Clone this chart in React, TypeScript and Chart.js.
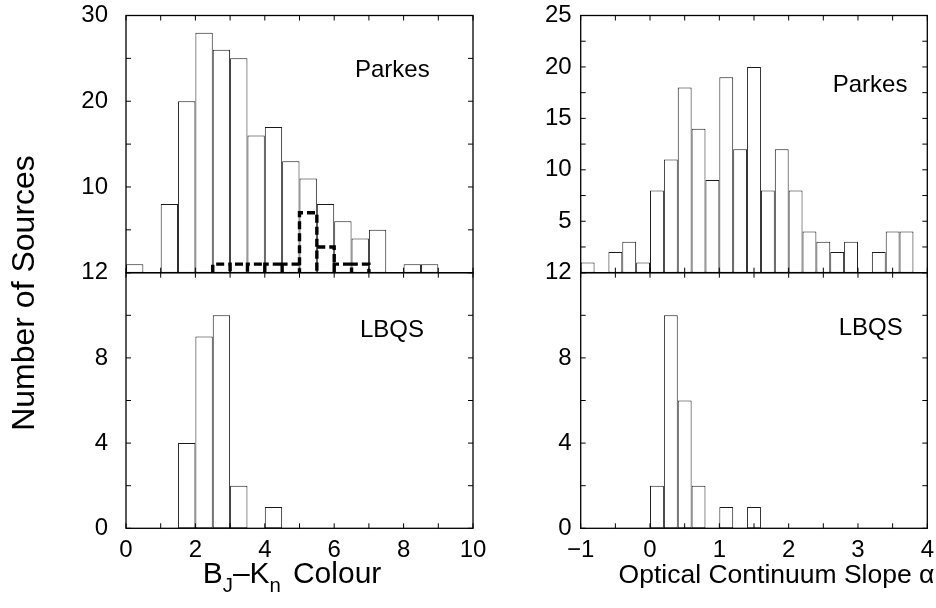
import React, { useEffect, useRef } from 'react';
import { Chart, registerables } from 'chart.js';

Chart.register(...registerables);

const FONT = '"Liberation Sans", Arial, Helvetica, sans-serif';

// ---------------- data ----------------
// B_J - K_n colour histograms (bin width 0.5)
const colourBinStarts = [0, 0.5, 1, 1.5, 2, 2.5, 3, 3.5, 4, 4.5, 5, 5.5, 6, 6.5, 7, 7.5, 8, 8.5, 9, 9.5];
const parkesColourCounts = [1, 0, 8, 20, 28, 26, 25, 16, 17, 13, 11, 8, 6, 4, 5, 0, 1, 1, 0, 0];
const parkesColourDashedCounts = [0, 0, 0, 0, 0, 1, 1, 1, 1, 1, 7, 3, 1, 1, 0, 0, 0, 0, 0, 0];
const lbqsColourCounts = [0, 0, 0, 4, 9, 10, 2, 0, 1, 0, 0, 0, 0, 0, 0, 0, 0, 0, 0, 0];
const colourBinWidth = 0.5;

// Optical continuum slope alpha histograms (bin width 0.2)
const alphaBinStarts = [-1, -0.8, -0.6, -0.4, -0.2, 0, 0.2, 0.4, 0.6, 0.8, 1, 1.2, 1.4, 1.6, 1.8, 2, 2.2, 2.4, 2.6, 2.8, 3, 3.2, 3.4, 3.6, 3.8];
const parkesAlphaCounts = [1, 0, 2, 3, 1, 8, 11, 18, 14, 9, 19, 12, 20, 8, 12, 8, 4, 3, 2, 3, 0, 2, 4, 4, 0];
const lbqsAlphaCounts = [0, 0, 0, 0, 0, 2, 10, 6, 2, 0, 1, 0, 1, 0, 0, 0, 0, 0, 0, 0, 0, 0, 0, 0, 0];
const alphaBinWidth = 0.2;

// tick labels
const colourTickLabels = [0, 2, 4, 6, 8, 10];
const alphaTickLabels = [-1, 0, 1, 2, 3, 4];
const parkesColourYLabels = [10, 20, 30];
const parkesAlphaYLabels = [5, 10, 15, 20, 25];
const lbqsYLabels = [0, 4, 8, 12];

// tick marks
const colourTickMarks = [0, 1, 2, 3, 4, 5, 6, 7, 8, 9, 10];
const alphaTickMarks = [-1, -0.5, 0, 0.5, 1, 1.5, 2, 2.5, 3, 3.5, 4];
const parkesColourYMarks = [0, 5, 10, 15, 20, 25, 30];
const parkesAlphaYMarks = [0, 2.5, 5, 7.5, 10, 12.5, 15, 17.5, 20, 22.5, 25];
const lbqsYMarks = [0, 2, 4, 6, 8, 10, 12];

// ---------------- layout ----------------
const W = 936;
const H = 608;
const Y_AXIS_W = 60;
const X_AXIS_H = 40;
const TICK_FONT = 24;
const NAME_FONT = 24;

const fmt = (v: number) => (v < 0 ? '\u2212' + Math.abs(v) : String(v));

function outline(starts: number[], counts: number[], width: number) {
  const pts: { x: number; y: number }[] = [];
  counts.forEach((c, i) => {
    if (c <= 0) return;
    const x0 = starts[i];
    const x1 = starts[i] + width;
    pts.push({ x: x0, y: 0 }, { x: x0, y: c }, { x: x1, y: c }, { x: x1, y: 0 });
  });
  return pts;
}

type Part = [string, boolean];
function drawParts(
  ctx: CanvasRenderingContext2D,
  parts: Part[],
  size: number,
  cx: number,
  baseline: number,
  gapBefore: number[]
) {
  const sub = size * 0.68;
  let total = 0;
  parts.forEach(([t, s], i) => {
    ctx.font = `${s ? sub : size}px ${FONT}`;
    total += ctx.measureText(t).width + (gapBefore[i] || 0);
  });
  let x = cx - total / 2;
  ctx.textAlign = 'left';
  ctx.textBaseline = 'alphabetic';
  parts.forEach(([t, s], i) => {
    x += gapBefore[i] || 0;
    ctx.font = `${s ? sub : size}px ${FONT}`;
    ctx.fillText(t, x, baseline + (s ? 9 : 0));
    x += ctx.measureText(t).width;
  });
}

type Panel = {
  starts: number[];
  counts: number[];
  binWidth: number;
  dashed?: number[];
  xRange: [number, number];
  yRange: [number, number];
  xLabels: number[] | null;
  yLabels: number[];
  xMarks: number[];
  yMarks: number[];
  area: { left: number; right: number; top: number; bottom: number };
  yLabelGap: number;
  xLabelGap: number;
  name: string;
  nameAt: [number, number];
  extra?: (ctx: CanvasRenderingContext2D, a: any) => void;
};

function makeConfig(p: Panel): any {
  const datasets: any[] = [
    {
      type: 'bar',
      data: p.counts.map((c, i) => ({ x: p.starts[i] + p.binWidth / 2, y: c })),
      backgroundColor: '#ffffff',
      borderColor: '#1a1a1a',
      borderWidth: 1,
      borderSkipped: false,
      barPercentage: 1,
      categoryPercentage: 1,
      inflateAmount: 0,
      order: 2,
    },
  ];
  if (p.dashed) {
    datasets.push({
      type: 'line',
      data: outline(p.starts, p.dashed, p.binWidth),
      borderColor: '#000000',
      borderWidth: 3.4,
      borderDash: [8, 4],
      borderCapStyle: 'butt',
      pointRadius: 0,
      fill: false,
      tension: 0,
      order: 1,
    });
  }

  const decor = {
    id: 'decor',
    afterDatasetsDraw(chart: any) {
      const { ctx, chartArea: a } = chart;
      const xs = chart.scales.x;
      const ys = chart.scales.y;
      const L = 5;
      ctx.save();
      ctx.strokeStyle = '#000';
      ctx.lineWidth = 1;
      ctx.beginPath();
      p.xMarks.forEach((v) => {
        const px = xs.getPixelForValue(v);
        ctx.moveTo(px, a.bottom);
        ctx.lineTo(px, a.bottom - L);
        ctx.moveTo(px, a.top);
        ctx.lineTo(px, a.top + L);
      });
      p.yMarks.forEach((v) => {
        const py = ys.getPixelForValue(v);
        ctx.moveTo(a.left, py);
        ctx.lineTo(a.left + L, py);
        ctx.moveTo(a.right, py);
        ctx.lineTo(a.right - L, py);
      });
      ctx.stroke();
      ctx.lineWidth = 1.3;
      ctx.strokeRect(a.left, a.top, a.right - a.left, a.bottom - a.top);
      ctx.fillStyle = '#000';
      ctx.font = `${NAME_FONT}px ${FONT}`;
      ctx.textAlign = 'left';
      ctx.textBaseline = 'alphabetic';
      ctx.fillText(p.name, a.left + p.nameAt[0], a.top + p.nameAt[1]);
      if (p.extra) p.extra(ctx, a);
      ctx.restore();
    },
  };

  return {
    type: 'bar',
    data: { datasets },
    options: {
      responsive: false,
      animation: false,
      devicePixelRatio: 1,
      events: [],
      layout: {
        padding: {
          left: p.area.left - Y_AXIS_W,
          right: W - p.area.right,
          top: p.area.top,
          bottom: H - p.area.bottom - (p.xLabels ? X_AXIS_H : 0),
        },
      },
      plugins: { legend: { display: false }, tooltip: { enabled: false }, title: { display: false } },
      scales: {
        x: {
          type: 'linear',
          min: p.xRange[0],
          max: p.xRange[1],
          offset: false,
          display: !!p.xLabels,
          grid: { display: false, drawTicks: false },
          border: { display: false },
          ticks: {
            padding: p.xLabelGap,
            autoSkip: false,
            maxRotation: 0,
            font: { size: TICK_FONT, family: FONT },
            color: '#000',
            callback: (v: any) => fmt(Number(v)),
          },
          afterBuildTicks: (s: any) => {
            s.ticks = (p.xLabels ?? p.xMarks).map((v) => ({ value: v }));
          },
          afterFit: (s: any) => {
            s.height = p.xLabels ? X_AXIS_H : 0;
            s.paddingLeft = 0;
            s.paddingRight = 0;
          },
        },
        y: {
          type: 'linear',
          min: p.yRange[0],
          max: p.yRange[1],
          grid: { display: false, drawTicks: false },
          border: { display: false },
          ticks: {
            padding: p.yLabelGap,
            autoSkip: false,
            font: { size: TICK_FONT, family: FONT },
            color: '#000',
            callback: (v: any) => fmt(Number(v)),
          },
          afterBuildTicks: (s: any) => {
            s.ticks = p.yLabels.map((v) => ({ value: v }));
          },
          afterFit: (s: any) => {
            s.width = Y_AXIS_W;
            s.paddingTop = 0;
            s.paddingBottom = 0;
          },
        },
      },
    },
    plugins: [decor],
  };
}

const LEFT = { left: 126, right: 473 };
const RIGHT = { left: 580.7, right: 927.3 };
const TOP = { top: 15.5, bottom: 272.7 };
const BOTTOM = { top: 272.7, bottom: 528.3 };

const panels: Panel[] = [
  {
    starts: colourBinStarts,
    counts: parkesColourCounts,
    dashed: parkesColourDashedCounts,
    binWidth: colourBinWidth,
    xRange: [0, 10],
    yRange: [0, 30],
    xLabels: null,
    yLabels: parkesColourYLabels,
    xMarks: colourTickMarks,
    yMarks: parkesColourYMarks,
    area: { ...LEFT, ...TOP },
    yLabelGap: 18,
    xLabelGap: 8,
    name: 'Parkes',
    nameAt: [229, 61],
    extra: (ctx) => {
      ctx.save();
      ctx.font = `32px ${FONT}`;
      ctx.translate(34, 293);
      ctx.rotate(-Math.PI / 2);
      ctx.textAlign = 'center';
      ctx.textBaseline = 'alphabetic';
      ctx.fillText('Number of Sources', 0, 0);
      ctx.restore();
    },
  },
  {
    starts: colourBinStarts,
    counts: lbqsColourCounts,
    binWidth: colourBinWidth,
    xRange: [0, 10],
    yRange: [0, 12],
    xLabels: colourTickLabels,
    yLabels: lbqsYLabels,
    xMarks: colourTickMarks,
    yMarks: lbqsYMarks,
    area: { ...LEFT, ...BOTTOM },
    yLabelGap: 18,
    xLabelGap: 8,
    name: 'LBQS',
    nameAt: [234, 64],
    extra: (ctx, a) => {
      drawParts(
        ctx,
        [
          ['B', false],
          ['J', true],
          ['\u2013K', false],
          ['n', true],
          ['Colour', false],
        ],
        30,
        292,
        a.bottom + 55,
        [0, 0, 0, 0, 12]
      );
    },
  },
  {
    starts: alphaBinStarts,
    counts: parkesAlphaCounts,
    binWidth: alphaBinWidth,
    xRange: [-1, 4],
    yRange: [0, 25],
    xLabels: null,
    yLabels: parkesAlphaYLabels,
    xMarks: alphaTickMarks,
    yMarks: parkesAlphaYMarks,
    area: { ...RIGHT, ...TOP },
    yLabelGap: 9,
    xLabelGap: 8,
    name: 'Parkes',
    nameAt: [252, 76],
  },
  {
    starts: alphaBinStarts,
    counts: lbqsAlphaCounts,
    binWidth: alphaBinWidth,
    xRange: [-1, 4],
    yRange: [0, 12],
    xLabels: alphaTickLabels,
    yLabels: lbqsYLabels,
    xMarks: alphaTickMarks,
    yMarks: lbqsYMarks,
    area: { ...RIGHT, ...BOTTOM },
    yLabelGap: 9,
    xLabelGap: 8,
    name: 'LBQS',
    nameAt: [258, 62],
    extra: (ctx, a) => {
      drawParts(ctx, [['Optical Continuum Slope \u03b1', false]], 26.5, 776.5, a.bottom + 55, [0]);
    },
  },
];

export default function App() {
  const r0 = useRef<HTMLCanvasElement>(null);
  const r1 = useRef<HTMLCanvasElement>(null);
  const r2 = useRef<HTMLCanvasElement>(null);
  const r3 = useRef<HTMLCanvasElement>(null);
  const refs = [r0, r1, r2, r3];

  useEffect(() => {
    const charts = refs.map((r, i) => new Chart(r.current as HTMLCanvasElement, makeConfig(panels[i])));
    return () => charts.forEach((c) => c.destroy());
  }, []);

  return (
    <div style={{ position: 'fixed', left: 0, top: 0, width: W, height: H, background: '#fff' }}>
      {refs.map((r, i) => (
        <canvas
          key={i}
          ref={r}
          width={W}
          height={H}
          style={{ position: 'absolute', left: 0, top: 0, width: W, height: H }}
        />
      ))}
    </div>
  );
}
